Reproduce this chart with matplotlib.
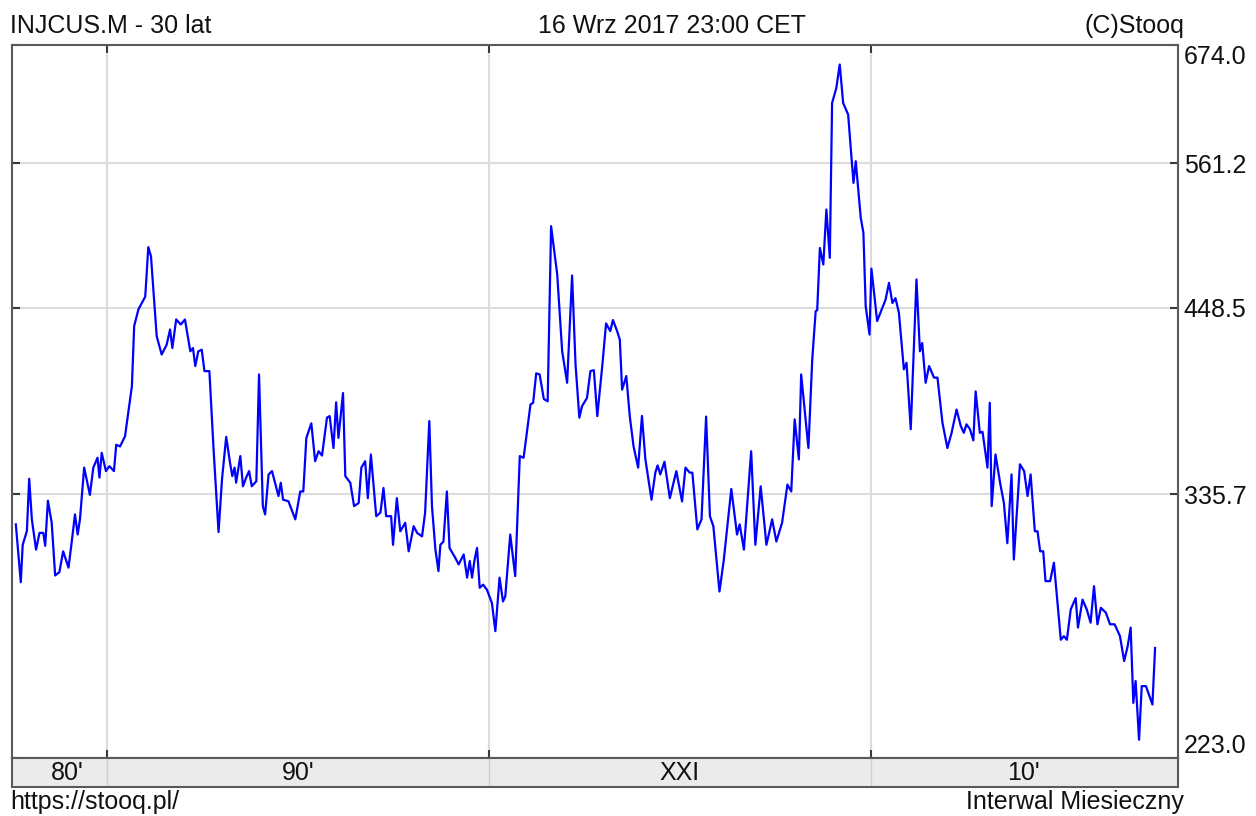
import matplotlib
matplotlib.use("Agg")
import matplotlib.pyplot as plt
from matplotlib.ticker import FixedLocator, NullLocator, NullFormatter

plt.rcParams['font.family'] = ['Liberation Sans', 'DejaVu Sans']

# ---- data ----
dates = [
    1987.61, 1987.74, 1987.79, 1987.90, 1987.96, 1988.03, 1988.14, 1988.23, 1988.33, 1988.38,
    1988.45, 1988.55, 1988.64, 1988.75, 1988.85, 1988.99, 1989.07, 1989.16, 1989.23, 1989.29,
    1989.40, 1989.55, 1989.64, 1989.75, 1989.80, 1989.86, 1989.97, 1990.06, 1990.18, 1990.24,
    1990.34, 1990.47, 1990.65, 1990.71, 1990.82, 1991.00, 1991.08, 1991.15, 1991.30, 1991.43,
    1991.56, 1991.65, 1991.71, 1991.81, 1991.93, 1992.04, 1992.18, 1992.25, 1992.31, 1992.39,
    1992.48, 1992.55, 1992.68, 1992.79, 1992.92, 1993.01, 1993.12, 1993.22, 1993.28, 1993.34,
    1993.38, 1993.49, 1993.56, 1993.64, 1993.72, 1993.79, 1993.91, 1993.98, 1994.08, 1994.14,
    1994.23, 1994.32, 1994.49, 1994.55, 1994.61, 1994.75, 1994.93, 1995.06, 1995.14, 1995.22,
    1995.35, 1995.45, 1995.54, 1995.63, 1995.76, 1995.83, 1995.93, 1996.00, 1996.06, 1996.18,
    1996.24, 1996.37, 1996.47, 1996.59, 1996.66, 1996.76, 1996.83, 1996.91, 1997.05, 1997.16,
    1997.24, 1997.31, 1997.44, 1997.49, 1997.59, 1997.68, 1997.81, 1997.90, 1998.03, 1998.12,
    1998.25, 1998.33, 1998.44, 1998.51, 1998.60, 1998.68, 1998.73, 1998.81, 1998.90, 1998.97,
    1999.12, 1999.21, 1999.34, 1999.43, 1999.50, 1999.56, 1999.62, 1999.69, 1999.76, 1999.85,
    1999.95, 2000.08, 2000.17, 2000.28, 2000.37, 2000.43, 2000.56, 2000.69, 2000.81, 2000.91,
    2001.09, 2001.16, 2001.24, 2001.33, 2001.44, 2001.54, 2001.63, 2001.79, 2001.92, 2002.05,
    2002.18, 2002.27, 2002.37, 2002.44, 2002.57, 2002.66, 2002.75, 2002.84, 2002.97, 2003.07,
    2003.18, 2003.25, 2003.36, 2003.43, 2003.49, 2003.60, 2003.69, 2003.79, 2003.91, 2004.01,
    2004.10, 2004.26, 2004.36, 2004.42, 2004.49, 2004.60, 2004.74, 2004.91, 2005.06, 2005.15,
    2005.26, 2005.33, 2005.46, 2005.57, 2005.69, 2005.79, 2005.88, 2006.04, 2006.15, 2006.35,
    2006.50, 2006.57, 2006.68, 2006.87, 2006.98, 2007.12, 2007.27, 2007.42, 2007.53, 2007.68,
    2007.82, 2007.92, 2008.01, 2008.12, 2008.18, 2008.37, 2008.47, 2008.56, 2008.60, 2008.67,
    2008.76, 2008.84, 2008.93, 2008.99, 2009.10, 2009.19, 2009.28, 2009.41, 2009.55, 2009.61,
    2009.74, 2009.81, 2009.87, 2009.97, 2010.02, 2010.17, 2010.39, 2010.48, 2010.57, 2010.65,
    2010.74, 2010.87, 2010.94, 2011.05, 2011.20, 2011.29, 2011.35, 2011.44, 2011.53, 2011.66,
    2011.75, 2011.88, 2012.01, 2012.12, 2012.25, 2012.36, 2012.44, 2012.51, 2012.60, 2012.69,
    2012.75, 2012.86, 2012.93, 2013.06, 2013.12, 2013.17, 2013.27, 2013.39, 2013.49, 2013.58,
    2013.69, 2013.75, 2013.91, 2014.02, 2014.11, 2014.19, 2014.30, 2014.37, 2014.44, 2014.52,
    2014.58, 2014.70, 2014.80, 2014.98, 2015.06, 2015.14, 2015.24, 2015.37, 2015.43, 2015.55,
    2015.66, 2015.76, 2015.85, 2015.94, 2016.03, 2016.16, 2016.27, 2016.39, 2016.53, 2016.64,
    2016.73, 2016.81, 2016.88, 2016.94, 2017.03, 2017.10, 2017.21, 2017.38, 2017.45,
]
values = [
    320.4, 292.9, 310.4, 317.1, 343.9, 322.9, 308.1, 316.2, 316.2, 309.9,
    332.4, 321.2, 296.0, 297.5, 307.3, 299.6, 311.2, 325.4, 315.4, 322.9,
    349.9, 335.4, 349.9, 355.3, 344.5, 358.0, 348.0, 350.7, 348.0, 362.5,
    361.6, 367.3, 396.9, 435.8, 447.2, 456.2, 492.6, 485.7, 429.0, 417.0,
    423.3, 433.5, 421.2, 440.3, 436.9, 440.3, 419.1, 421.2, 409.6, 419.1,
    420.1, 406.4, 406.4, 359.8, 316.6, 343.5, 367.0, 352.6, 345.3, 349.9,
    341.8, 356.2, 339.9, 344.4, 348.0, 339.9, 342.6, 404.3, 329.6, 325.4,
    346.2, 348.0, 334.8, 341.8, 332.9, 332.1, 322.9, 337.2, 337.2, 366.4,
    374.8, 353.4, 358.9, 356.5, 378.1, 379.0, 360.7, 387.2, 366.4, 392.8,
    345.3, 341.8, 329.6, 331.2, 349.9, 353.4, 333.7, 357.1, 324.5, 326.3,
    339.0, 324.5, 324.5, 310.4, 333.7, 317.0, 321.2, 307.3, 319.5, 316.2,
    314.5, 326.2, 376.1, 329.6, 308.1, 298.0, 310.4, 312.0, 337.2, 308.9,
    304.2, 301.1, 305.8, 295.0, 302.7, 295.0, 302.7, 308.9, 290.4, 291.8,
    289.5, 283.6, 271.5, 295.0, 284.3, 286.5, 315.4, 295.7, 356.2, 355.3,
    385.9, 386.9, 405.0, 404.3, 389.2, 387.8, 508.9, 472.2, 419.1, 399.1,
    471.4, 410.7, 378.1, 384.9, 389.8, 406.4, 407.0, 379.0, 409.6, 437.6,
    432.4, 439.9, 432.4, 426.7, 394.9, 403.3, 379.1, 361.6, 349.9, 379.1,
    354.4, 332.9, 347.2, 351.1, 346.2, 353.1, 333.7, 348.0, 332.0, 349.9,
    347.2, 347.2, 317.9, 322.9, 378.7, 324.5, 319.5, 288.7, 302.7, 338.5,
    315.4, 320.4, 308.1, 358.9, 310.4, 339.9, 310.4, 322.9, 312.0, 321.2,
    340.8, 337.2, 377.1, 354.4, 404.3, 360.7, 413.8, 446.0, 446.7, 491.9,
    479.5, 522.2, 484.5, 616.0, 630.4, 653.9, 616.0, 605.1, 544.2, 562.8,
    515.6, 503.6, 449.4, 430.1, 476.4, 439.2, 454.0, 466.0, 451.7, 455.1,
    444.9, 407.5, 411.7, 371.4, 468.5, 419.1, 424.5, 399.1, 409.6, 402.3,
    402.3, 375.2, 360.7, 369.3, 382.9, 373.2, 369.3, 374.2, 371.4, 365.0,
    393.8, 369.3, 369.9, 349.9, 386.9, 329.6, 357.1, 341.8, 331.2, 311.2,
    346.2, 303.4, 351.7, 348.0, 334.8, 346.2, 317.0, 317.0, 307.3, 307.3,
    293.4, 293.4, 301.9, 267.9, 269.4, 267.9, 280.8, 285.8, 273.0, 285.1,
    280.8, 275.1, 291.1, 274.4, 281.5, 279.4, 274.4, 274.4, 269.4, 259.2,
    265.1, 273.0, 242.9, 251.3, 229.4, 249.3, 249.3, 242.3, 264.5,
]

y_ticks = [223.0, 335.7, 448.5, 561.2, 674.0]
y_tick_labels = ["223.0", "335.7", "448.5", "561.2", "674.0"]
decade_lines = [1990, 2000, 2010]
decade_labels = ["80'", "90'", "XXI", "10'"]
decade_label_pos = [1988.95, 1995.0, 2005.0, 2014.0]
x_range = (1987.51, 2018.05)

title_left = "INJCUS.M - 30 lat"
title_center = "16 Wrz 2017 23:00 CET"
title_right = "(C)Stooq"
footer_left = "https://stooq.pl/"
footer_right = "Interwal Miesieczny"

# ---- figure ----
W, H = 1256, 816
fig = plt.figure(figsize=(W / 100, H / 100), dpi=100)
fig.patch.set_facecolor('white')

def fx(px):
    return px / W

def fy(py):
    return 1 - py / H

ax_l, ax_r, ax_t, ax_b = 12, 1178, 45, 758
ax = fig.add_axes([fx(ax_l), fy(ax_b), fx(ax_r - ax_l), (ax_b - ax_t) / H])
ax.set_yscale('log')
ax.set_xlim(*x_range)
ax.set_ylim(y_ticks[0], y_ticks[-1])

ax.plot(dates, values, color='#0000FF', lw=1.6, zorder=3)

grid_c = '#DCDCDC'
for yv in y_ticks[1:-1]:
    ax.axhline(yv, color=grid_c, lw=1.5, zorder=1)
for xv in decade_lines:
    ax.axvline(xv, color=grid_c, lw=1.5, zorder=1)

spine_c = '#5A5A5A'
for s in ax.spines.values():
    s.set_color(spine_c)
    s.set_linewidth(1.5)

ax.yaxis.set_minor_locator(NullLocator())
ax.yaxis.set_minor_formatter(NullFormatter())
ax.set_yticks(y_ticks, y_tick_labels)
ax.xaxis.set_major_locator(FixedLocator(decade_lines))
ax.xaxis.set_minor_locator(NullLocator())
ax.set_xticklabels([])

ax.tick_params(axis='y', which='major', direction='in', left=True, right=True,
               labelleft=False, labelright=True, length=5.5, width=1.5,
               color='#3A3A3A', pad=4, labelsize=18, labelcolor='#111111')
ax.tick_params(axis='x', which='major', direction='in', top=True, bottom=True,
               labelbottom=False, length=5.5, width=1.5, color='#3A3A3A')

for lbl in ax.get_yticklabels():
    t = lbl.get_text()
    if t == y_tick_labels[-1]:
        lbl.set_va('top')
    elif t == y_tick_labels[0]:
        lbl.set_va('bottom')

# ---- decade strip ----
st_t, st_b = 758, 787
sx = fig.add_axes([fx(ax_l), fy(st_b), fx(ax_r - ax_l), (st_b - st_t) / H])
sx.set_facecolor('#EBEBEB')
sx.set_xlim(*x_range)
sx.set_ylim(0, 1)
sx.set_xticks([])
sx.set_yticks([])
for s in sx.spines.values():
    s.set_color(spine_c)
    s.set_linewidth(1.5)
for xv in decade_lines:
    sx.axvline(xv, color='#CFCFCF', lw=1.0)
for lab, pos in zip(decade_labels, decade_label_pos):
    sx.text(pos, 0.24, lab, ha='center', va='baseline', fontsize=18, color='#111111')

# ---- header / footer texts ----
fig.text(fx(10), fy(33), title_left, ha='left', va='baseline', fontsize=18, color='#111111')
fig.text(fx(672), fy(33), title_center, ha='center', va='baseline', fontsize=18, color='#111111')
fig.text(fx(1184), fy(33), title_right, ha='right', va='baseline', fontsize=18, color='#111111')
fig.text(fx(10), fy(809), footer_left, ha='left', va='baseline', fontsize=18, color='#111111')
fig.text(fx(1184), fy(809), footer_right, ha='right', va='baseline', fontsize=18, color='#111111')

fig.savefig('out.png', dpi=100, facecolor='white')
